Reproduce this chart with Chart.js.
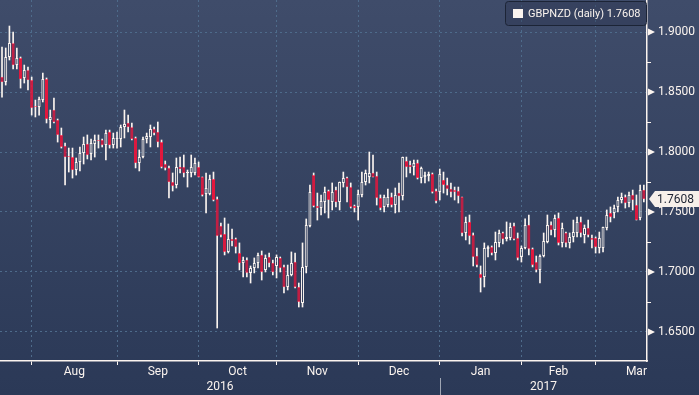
<!DOCTYPE html>
<html>
<head>
<meta charset="utf-8">
<script src="https://cdn.jsdelivr.net/npm/chart.js@4.4.1/dist/chart.umd.min.js"></script>
<style>
    html, body { margin: 0; padding: 0; }
    #wrap { width: 699px; height: 395px; background: linear-gradient(#3f4c6a, #2b3957); }
</style>
</head>
<body>
<div id="wrap"><canvas id="fxChart" width="699" height="395"></canvas></div>
<script>
// GBPNZD daily candles, one per weekday, late Jul 2016 -> mid Mar 2017
const opens = [
    1.8625, 1.8583, 1.8792, 1.8908, 1.8725, 1.8783, 1.8617, 1.8683, 1.8600, 1.8383,
    1.8375, 1.8433, 1.8608, 1.8267, 1.8350, 1.8267, 1.8142, 1.8050, 1.7967, 1.7958,
    1.7850, 1.7917, 1.7992, 1.8067, 1.7983, 1.8067, 1.8100, 1.8100, 1.8058, 1.8167,
    1.8058, 1.8108, 1.8108, 1.8208, 1.8242, 1.8208, 1.8117, 1.7908, 1.7958, 1.8108,
    1.8125, 1.8192, 1.8167, 1.8083, 1.7900, 1.7867, 1.7750, 1.7725, 1.7875, 1.7875,
    1.7825, 1.7825, 1.7825, 1.7875, 1.7792, 1.7650, 1.7650, 1.7775, 1.7608, 1.7383,
    1.7317, 1.7167, 1.7275, 1.7275, 1.7158, 1.7075, 1.7100, 1.6992, 1.7033, 1.7075,
    1.7142, 1.7017, 1.7125, 1.7075, 1.7050, 1.7117, 1.7042, 1.6875, 1.6975, 1.7083,
    1.6875, 1.6742, 1.7042, 1.7383, 1.7808, 1.7550, 1.7533, 1.7583, 1.7675, 1.7583,
    1.7683, 1.7583, 1.7742, 1.7783, 1.7708, 1.7550, 1.7542, 1.7642, 1.7750, 1.7792,
    1.7825, 1.7800, 1.7617, 1.7542, 1.7558, 1.7625, 1.7558, 1.7658, 1.7633, 1.7925,
    1.7892, 1.7875, 1.7908, 1.7783, 1.7792, 1.7800, 1.7817, 1.7675, 1.7667, 1.7767,
    1.7725, 1.7692, 1.7683, 1.7675, 1.7625, 1.7325, 1.7417, 1.7308, 1.7133, 1.6983,
    1.6958, 1.7192, 1.7208, 1.7158, 1.7242, 1.7325, 1.7275, 1.7283, 1.7383, 1.7283,
    1.7125, 1.7200, 1.7392, 1.7192, 1.7083, 1.7017, 1.7133, 1.7250, 1.7392, 1.7350,
    1.7450, 1.7242, 1.7325, 1.7242, 1.7292, 1.7325, 1.7417, 1.7308, 1.7367, 1.7283,
    1.7283, 1.7200, 1.7200, 1.7367, 1.7492, 1.7492, 1.7542, 1.7600, 1.7625, 1.7575,
    1.7642, 1.7558, 1.7450, 1.7683
];
const highs = [
    1.8875, 1.8867, 1.9050, 1.9000, 1.8867, 1.8792, 1.8725, 1.8708, 1.8625, 1.8433,
    1.8458, 1.8658, 1.8617, 1.8350, 1.8450, 1.8275, 1.8200, 1.8075, 1.8033, 1.8033,
    1.7950, 1.8042, 1.8125, 1.8142, 1.8108, 1.8142, 1.8142, 1.8108, 1.8183, 1.8183,
    1.8158, 1.8167, 1.8225, 1.8350, 1.8308, 1.8242, 1.8125, 1.8017, 1.8125, 1.8158,
    1.8225, 1.8208, 1.8250, 1.8100, 1.7925, 1.7883, 1.7825, 1.7950, 1.7958, 1.7975,
    1.7850, 1.7975, 1.7950, 1.7917, 1.7792, 1.7825, 1.7808, 1.7833, 1.7625, 1.7408,
    1.7450, 1.7400, 1.7358, 1.7283, 1.7242, 1.7125, 1.7117, 1.7050, 1.7117, 1.7158,
    1.7175, 1.7142, 1.7158, 1.7100, 1.7142, 1.7125, 1.7058, 1.7058, 1.7167, 1.7158,
    1.6908, 1.7242, 1.7442, 1.7725, 1.7825, 1.7658, 1.7642, 1.7708, 1.7683, 1.7742,
    1.7708, 1.7750, 1.7833, 1.7792, 1.7742, 1.7558, 1.7683, 1.7833, 1.7850, 1.8000,
    1.7975, 1.7833, 1.7642, 1.7642, 1.7692, 1.7658, 1.7700, 1.7742, 1.7958, 1.7958,
    1.7925, 1.7933, 1.7933, 1.7875, 1.7833, 1.7833, 1.7825, 1.7692, 1.7858, 1.7833,
    1.7783, 1.7742, 1.7708, 1.7708, 1.7625, 1.7458, 1.7475, 1.7325, 1.7200, 1.7050,
    1.7242, 1.7217, 1.7217, 1.7333, 1.7350, 1.7333, 1.7417, 1.7408, 1.7408, 1.7325,
    1.7217, 1.7442, 1.7475, 1.7200, 1.7133, 1.7142, 1.7325, 1.7475, 1.7417, 1.7475,
    1.7492, 1.7408, 1.7333, 1.7325, 1.7433, 1.7458, 1.7458, 1.7392, 1.7433, 1.7308,
    1.7292, 1.7333, 1.7375, 1.7517, 1.7542, 1.7558, 1.7625, 1.7658, 1.7642, 1.7667,
    1.7683, 1.7642, 1.7725, 1.7725
];
const lows = [
    1.8458, 1.8558, 1.8767, 1.8692, 1.8692, 1.8533, 1.8575, 1.8517, 1.8308, 1.8292,
    1.8308, 1.8417, 1.8242, 1.8200, 1.8242, 1.8083, 1.8033, 1.7725, 1.7833, 1.7783,
    1.7808, 1.7842, 1.7900, 1.7942, 1.7933, 1.7958, 1.8033, 1.8042, 1.7933, 1.8033,
    1.8033, 1.8033, 1.8042, 1.8117, 1.8167, 1.8100, 1.7867, 1.7842, 1.7950, 1.8075,
    1.8042, 1.8142, 1.8042, 1.7867, 1.7850, 1.7617, 1.7675, 1.7700, 1.7825, 1.7792,
    1.7708, 1.7792, 1.7808, 1.7792, 1.7633, 1.7492, 1.7642, 1.7592, 1.6533, 1.7292,
    1.7142, 1.7158, 1.7217, 1.7158, 1.7017, 1.6958, 1.6958, 1.6908, 1.6992, 1.7033,
    1.6933, 1.7000, 1.7042, 1.6975, 1.6950, 1.7000, 1.6825, 1.6850, 1.6967, 1.6867,
    1.6708, 1.6708, 1.6992, 1.7375, 1.7542, 1.7433, 1.7475, 1.7492, 1.7450, 1.7517,
    1.7542, 1.7517, 1.7708, 1.7583, 1.7533, 1.7500, 1.7433, 1.7625, 1.7725, 1.7742,
    1.7792, 1.7558, 1.7517, 1.7500, 1.7542, 1.7542, 1.7492, 1.7500, 1.7600, 1.7792,
    1.7825, 1.7808, 1.7775, 1.7742, 1.7742, 1.7758, 1.7658, 1.7575, 1.7600, 1.7658,
    1.7642, 1.7625, 1.7600, 1.7575, 1.7300, 1.7267, 1.7233, 1.7050, 1.7042, 1.6833,
    1.6875, 1.7125, 1.7142, 1.7100, 1.7208, 1.7233, 1.7258, 1.7267, 1.7267, 1.7100,
    1.7083, 1.7192, 1.7142, 1.7042, 1.7000, 1.6908, 1.7125, 1.7242, 1.7308, 1.7292,
    1.7225, 1.7208, 1.7208, 1.7200, 1.7250, 1.7292, 1.7292, 1.7242, 1.7292, 1.7200,
    1.7158, 1.7158, 1.7167, 1.7350, 1.7417, 1.7450, 1.7500, 1.7575, 1.7533, 1.7542,
    1.7517, 1.7433, 1.7433, 1.7583
];
const closes = [
    1.8583, 1.8792, 1.8908, 1.8725, 1.8783, 1.8608, 1.8683, 1.8600, 1.8367, 1.8375,
    1.8442, 1.8608, 1.8275, 1.8292, 1.8250, 1.8142, 1.8042, 1.7958, 1.7958, 1.7850,
    1.7917, 1.7992, 1.8067, 1.7975, 1.8075, 1.8100, 1.8092, 1.8058, 1.8158, 1.8058,
    1.8117, 1.8117, 1.8208, 1.8233, 1.8208, 1.8108, 1.7908, 1.7958, 1.8108, 1.8133,
    1.8192, 1.8158, 1.8083, 1.7875, 1.7867, 1.7750, 1.7717, 1.7875, 1.7858, 1.7825,
    1.7833, 1.7875, 1.7908, 1.7792, 1.7642, 1.7700, 1.7775, 1.7600, 1.7300, 1.7308,
    1.7167, 1.7275, 1.7258, 1.7208, 1.7075, 1.7100, 1.6992, 1.7033, 1.7075, 1.7142,
    1.7000, 1.7117, 1.7075, 1.7000, 1.7125, 1.7033, 1.6875, 1.6975, 1.7075, 1.6875,
    1.6750, 1.7042, 1.7392, 1.7667, 1.7550, 1.7533, 1.7592, 1.7667, 1.7600, 1.7667,
    1.7583, 1.7750, 1.7783, 1.7708, 1.7542, 1.7533, 1.7650, 1.7750, 1.7825, 1.7825,
    1.7792, 1.7617, 1.7533, 1.7625, 1.7625, 1.7558, 1.7642, 1.7633, 1.7958, 1.7875,
    1.7875, 1.7908, 1.7783, 1.7867, 1.7808, 1.7817, 1.7667, 1.7592, 1.7817, 1.7725,
    1.7692, 1.7667, 1.7667, 1.7633, 1.7325, 1.7417, 1.7300, 1.7125, 1.7058, 1.6950,
    1.7200, 1.7208, 1.7158, 1.7250, 1.7325, 1.7275, 1.7292, 1.7375, 1.7275, 1.7117,
    1.7200, 1.7392, 1.7192, 1.7058, 1.7017, 1.7133, 1.7258, 1.7392, 1.7350, 1.7450,
    1.7242, 1.7367, 1.7242, 1.7292, 1.7333, 1.7417, 1.7325, 1.7367, 1.7308, 1.7267,
    1.7208, 1.7283, 1.7375, 1.7475, 1.7458, 1.7533, 1.7600, 1.7625, 1.7575, 1.7642,
    1.7600, 1.7433, 1.7683, 1.7608
];

// axis data (x values are candle index numbers)
const monthLabels = ["Aug", "Sep", "Oct", "Nov", "Dec", "Jan", "Feb", "Mar"];
const monthStarts = [8, 31, 53, 74, 96, 118, 140, 160];
const monthMids = [19.5, 42, 63.5, 85, 107, 129, 150, 171];
const yearLabels = ["2016", "2017"];
const yearStart = 118;
const yTicks = [1.65, 1.70, 1.75, 1.80, 1.85, 1.90];
const yMinorTicks = [1.675, 1.725, 1.775, 1.825, 1.875];
const seriesName = "GBPNZD (daily)";

const RED = "#e8173d";
const WHITE = "#fbf4ef";
const GRID = "#4e6b8b";
const FONT = "Roboto, 'DejaVu Sans', sans-serif";

const isUp = closes.map((c, i) => c >= opens[i]);
const bodies = closes.map((c, i) => ({ x: i, y: [opens[i], c] }));
const upperWicks = closes.map((c, i) => ({ x: i, y: [Math.max(opens[i], c), highs[i]] }));
const lowerWicks = closes.map((c, i) => ({ x: i, y: [lows[i], Math.min(opens[i], c)] }));
const lastClose = closes[closes.length - 1];

// axis labels, markers, last price tag and the legend box
const extras = {
    id: "extras",
    afterDraw(chart) {
        const { ctx, chartArea: area, scales: { x, y } } = chart;
        ctx.save();
        ctx.fillStyle = WHITE;
        ctx.font = "12px " + FONT;
        ctx.textAlign = "center";
        ctx.textBaseline = "middle";
        monthLabels.forEach((m, k) => {
            ctx.fillText(m, x.getPixelForValue(monthMids[k]), 372);
        });
        const split = x.getPixelForValue(yearStart);
        ctx.fillText(yearLabels[0], (area.left + split) / 2, 387);
        ctx.fillText(yearLabels[1], (split + area.right) / 2, 387);
        ctx.strokeStyle = "rgba(255,255,255,0.55)";
        ctx.lineWidth = 1;
        ctx.beginPath();
        ctx.moveTo(Math.round(split) + 0.5, 378);
        ctx.lineTo(Math.round(split) + 0.5, 395);
        ctx.stroke();

        // y axis markers
        yTicks.forEach(v => {
            const py = y.getPixelForValue(v);
            ctx.beginPath();
            ctx.moveTo(area.right + 1, py - 3.5);
            ctx.lineTo(area.right + 1, py + 3.5);
            ctx.lineTo(area.right + 8, py);
            ctx.closePath();
            ctx.fill();
        });
        ctx.strokeStyle = WHITE;
        yMinorTicks.forEach(v => {
            const py = Math.round(y.getPixelForValue(v)) + 0.5;
            ctx.beginPath();
            ctx.moveTo(area.right, py);
            ctx.lineTo(area.right + 4, py);
            ctx.stroke();
        });

        // last price tag
        const ly = y.getPixelForValue(lastClose);
        ctx.fillStyle = "#f7f0ea";
        ctx.beginPath();
        ctx.moveTo(area.right + 2, ly);
        ctx.lineTo(area.right + 8, ly - 8);
        ctx.lineTo(699, ly - 8);
        ctx.lineTo(699, ly + 8);
        ctx.lineTo(area.right + 8, ly + 8);
        ctx.closePath();
        ctx.fill();
        ctx.fillStyle = "#1b2232";
        ctx.textAlign = "left";
        ctx.fillText(lastClose.toFixed(4), area.right + 10, ly + 0.5);

        // legend
        ctx.fillStyle = "rgba(40,50,75,0.35)";
        ctx.strokeStyle = "#1c2436";
        ctx.beginPath();
        ctx.roundRect(505.5, 1.5, 141, 24, 3);
        ctx.fill();
        ctx.stroke();
        ctx.fillStyle = WHITE;
        ctx.fillRect(513, 9, 10, 9);
        ctx.font = "11px " + FONT;
        ctx.fillText(seriesName + " " + lastClose.toFixed(4), 528, 14);
        ctx.restore();
    }
};

const ctx = document.getElementById("fxChart").getContext("2d");

new Chart(ctx, {
    type: "bar",
    data: {
        datasets: [
            {
                label: "upper",
                data: upperWicks,
                backgroundColor: WHITE,
                barThickness: 1,
                grouped: false
            },
            {
                label: "lower",
                data: lowerWicks,
                backgroundColor: WHITE,
                barThickness: 1,
                grouped: false
            },
            {
                label: seriesName,
                data: bodies,
                backgroundColor: c => isUp[c.dataIndex] ? "rgba(0,0,0,0)" : RED,
                borderColor: c => isUp[c.dataIndex] ? WHITE : RED,
                borderWidth: 1,
                borderSkipped: false,
                inflateAmount: 0,
                barThickness: 3,
                grouped: false
            }
        ]
    },
    plugins: [extras],
    options: {
        responsive: false,
        animation: false,
        events: [],
        layout: { padding: 0 },
        plugins: {
            legend: { display: false },
            tooltip: { enabled: false }
        },
        scales: {
            x: {
                type: "linear",
                min: -0.54,
                max: 173.85,
                offset: false,
                afterBuildTicks: s => { s.ticks = monthStarts.map(v => ({ value: v })); },
                afterFit: s => {
                    s.height = 34;
                    s.paddingLeft = 0;
                    s.paddingRight = 0;
                },
                ticks: { display: false },
                grid: {
                    color: GRID,
                    offset: false,
                    drawTicks: true,
                    tickLength: 4,
                    tickColor: WHITE,
                    tickBorderDash: []
                },
                border: { display: true, color: WHITE, width: 1.5, dash: [2, 3] }
            },
            y: {
                position: "right",
                min: 1.6258,
                max: 1.9267,
                afterBuildTicks: s => { s.ticks = yTicks.map(v => ({ value: v })); },
                afterFit: s => {
                    s.width = 52;
                    s.paddingTop = 0;
                    s.paddingBottom = 0;
                },
                ticks: {
                    color: WHITE,
                    padding: 11,
                    font: { family: FONT, size: 12 },
                    callback: v => v.toFixed(4)
                },
                grid: { color: GRID, drawTicks: false },
                border: { display: true, color: WHITE, width: 1.5, dash: [2, 3] }
            }
        }
    }
});
</script>
</body>
</html>
